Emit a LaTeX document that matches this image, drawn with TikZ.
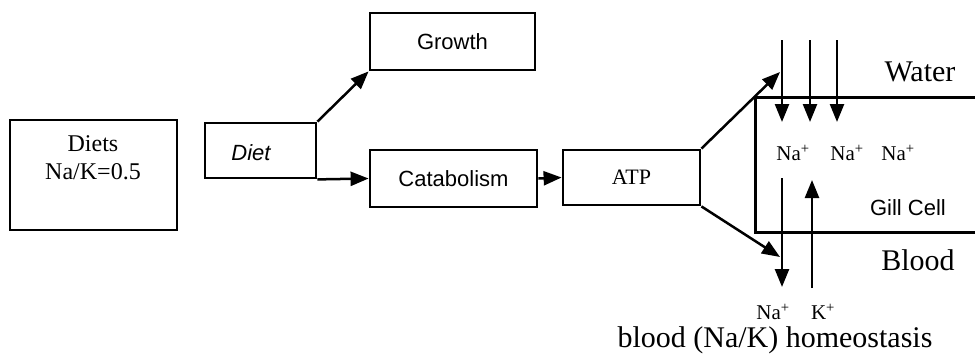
\documentclass[tikz,border=0pt]{standalone}
\usepackage{fontspec}
\setmainfont{Liberation Serif}
\setsansfont{Liberation Sans}
\usepackage{tikz}
\usetikzlibrary{arrows.meta,positioning}

\begin{document}
\begin{tikzpicture}[
x=1pt, y=-1pt,
box/.style={draw, line width=2.8pt, rectangle, inner sep=0pt, font=\sffamily\fontsize{22}{24}\selectfont},
flow/.style={line width=2.5pt, -{Triangle[length=18pt,width=14pt]}},
wall/.style={line width=3pt},
ion/.style={font=\fontsize{21}{23}\selectfont},
big/.style={font=\fontsize{30}{32}\selectfont}
]
    \useasboundingbox (0,0) rectangle (975,364);

    % Boxes
    \node[box, minimum width=167pt, minimum height=110pt] (diets) at (93.5,175) {};
    \node[font=\fontsize{24}{28}\selectfont, align=center] (dietstext) at (93,158) {Diets\\Na/K=0.5};
    \node[box, minimum width=111pt, minimum height=55pt] (diet) at (260.5,150.5) {};
    \node[font=\sffamily\itshape\fontsize{22}{24}\selectfont] (diettext) at (251,153) {Diet};
    \node[box, minimum width=165pt, minimum height=57pt] (growth) at (452.5,41.5) {Growth};
    \node[box, minimum width=167pt, minimum height=57pt] (catab) at (453.5,178.5) {Catabolism};
    \node[box, minimum width=137pt, minimum height=55pt, font=\fontsize{22}{24}\selectfont] (atp) at (631.5,177.5) {ATP};

    \draw
    (780,72) coordinate (uptip)
    (780,257) coordinate (downtip)
    (755,97) coordinate (cellA)
    (755,232) coordinate (cellB)
    (975,97) coordinate (cellC)
    (975,232) coordinate (cellD);

    % Gill cell
    \draw[wall] (cellC) -- (cellA) -- (cellB) -- (cellD);

    % Flow arrows
    \draw[flow] (diet.north east) -- (growth.south west);
    \draw[flow] (diet.south east) -- (catab.west);
    \draw[flow] (catab.east) -- (atp.west);
    \draw[flow] (atp.north east) -- (uptip);
    \draw[flow] (atp.south east) -- (downtip);

    % Ion movement
    \foreach \xx/\nm in {782/a,810/b,837/c}{
        \coordinate (in\nm) at (\xx,40);
        \coordinate (out\nm) at (\xx,122);
        \draw[flow] (in\nm) -- (out\nm);
    }
    \node[ion] (naA) at (793,153) {Na\textsuperscript{+}};
    \node[ion] (naB) at (847,153) {Na\textsuperscript{+}};
    \node[ion] (naC) at (898,153) {Na\textsuperscript{+}};
    \coordinate (naout) at (782,178);
    \coordinate (naend) at (782,287);
    \coordinate (kin) at (812,288);
    \coordinate (kend) at (812,180);
    \draw[flow] (naout) -- (naend);
    \draw[flow] (kin) -- (kend);

    % Labels
    \node[big] (water) at (920,72) {Water};
    \node[font=\sffamily\fontsize{22}{24}\selectfont] (gill) at (908,208) {Gill Cell};
    \node[big] (blood) at (918,260) {Blood};
    \node[ion] (naD) at (773,312) {Na\textsuperscript{+}};
    \node[ion] (kplus) at (823,312) {K\textsuperscript{+}};
    \node[big] (homeo) at (775,340) {blood (Na/K) homeostasis};
\end{tikzpicture}
\end{document}
